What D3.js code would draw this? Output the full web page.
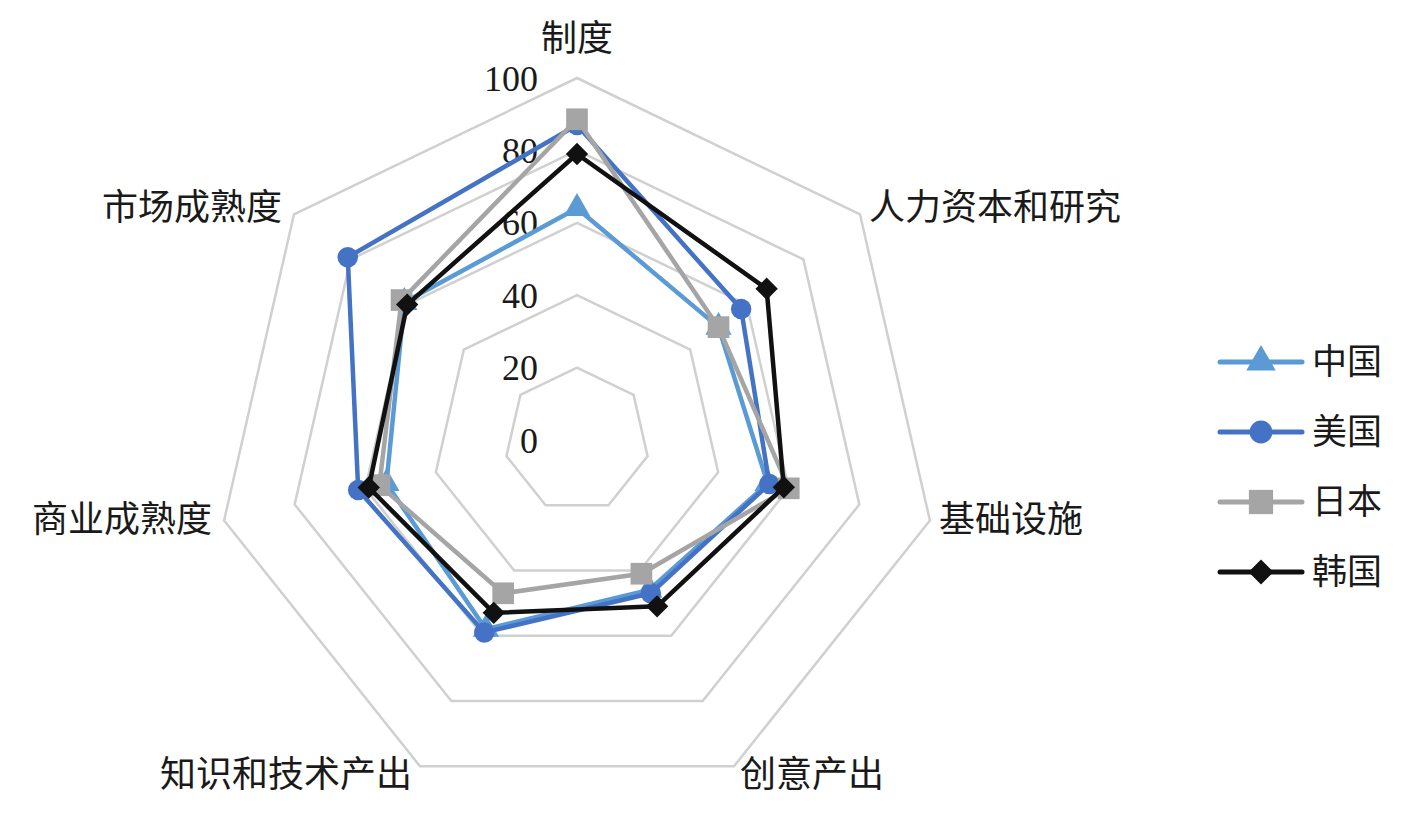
<!DOCTYPE html>
<html>
<head>
<meta charset="utf-8">
<script src="https://cdn.jsdelivr.net/npm/d3@7"></script>
<style>
  body { margin: 0; background: #fff; }
  svg text { font-family: "Liberation Serif", "Noto Sans CJK SC", serif; fill: #1a1a1a; }
  .cjk { font-family: "Noto Sans CJK SC", sans-serif; }
</style>
</head>
<body>
<svg id="chart" width="1412" height="816"></svg>
<script>
// axes of the radar, clockwise from top
const axes = ["制度", "人力资本和研究", "基础设施", "创意产出", "知识和技术产出", "商业成熟度", "市场成熟度"];
const ticks = [0, 20, 40, 60, 80, 100];

const countries = ["中国", "美国", "日本", "韩国"];
const china = [64, 50, 54, 46, 58, 54, 61];
const usa   = [87, 58, 54.5, 47, 59, 62, 81];
const japan = [88.6, 50, 60, 41, 47, 56, 62];
const korea = [79, 67, 58.6, 51, 53, 59, 60];

const colors = ["#5B9BD5", "#4472C4", "#A5A5A5", "#111111"];
const symbols = [d3.symbolTriangle, d3.symbolCircle, d3.symbolSquare, d3.symbolSquare];
const symSizes = [300, 330, 470, 250];
const symRotate = [0, 0, 0, 45];

const svg = d3.select("#chart");
const cx = 577, cy = 440;
const r = d3.scaleLinear().domain([0, 100]).range([0, 362]);
const angle = i => i * 2 * Math.PI / axes.length;
const pt = (i, v) => [cx + r(v) * Math.sin(angle(i)), cy - r(v) * Math.cos(angle(i))];

// grid rings (value 0 is the centre, so skip it)
const ring = d3.line().curve(d3.curveLinearClosed);
svg.append("g").selectAll("path")
  .data(ticks.filter(t => t > 0))
  .join("path")
  .attr("d", t => ring(axes.map((a, i) => pt(i, t))))
  .attr("fill", "none")
  .attr("stroke", "#d0d0d0")
  .attr("stroke-width", 2.5);

// tick labels along the top spoke
svg.append("g").selectAll("text")
  .data(ticks)
  .join("text")
  .attr("x", cx - 39)
  .attr("y", t => cy - r(t))
  .attr("dy", "0.35em")
  .attr("text-anchor", "end")
  .attr("font-size", 36)
  .text(t => t);

// axis labels
svg.append("g").selectAll("text")
  .data(axes)
  .join("text")
  .attr("class", "cjk")
  .attr("font-size", 36)
  .attr("dy", "0.35em")
  .each(function(d, i) {
    const [x, y] = pt(i, 100);
    const s = Math.sin(angle(i)), c = Math.cos(angle(i));
    const t = d3.select(this);
    if (i === 0) {
      t.attr("x", x).attr("y", y - 40).attr("text-anchor", "middle");
    } else if (c < -0.5) {
      // bottom pair
      t.attr("x", x + (s > 0 ? 6 : -8)).attr("y", y + 8)
       .attr("text-anchor", s > 0 ? "start" : "end");
    } else {
      t.attr("x", x + (s > 0 ? 9 : -12)).attr("y", y - (c > 0.5 ? 7 : 1))
       .attr("text-anchor", s > 0 ? "start" : "end");
    }
  })
  .text(d => d);

// series
const seriesData = [china, usa, japan, korea];
seriesData.forEach((vals, k) => {
  const g = svg.append("g");
  g.append("path")
    .attr("d", ring(vals.map((v, i) => pt(i, v))))
    .attr("fill", "none")
    .attr("stroke", colors[k])
    .attr("stroke-width", 4.5)
    .attr("stroke-linejoin", "round");
  g.selectAll("path.m")
    .data(vals)
    .join("path")
    .attr("class", "m")
    .attr("d", d3.symbol().type(symbols[k]).size(symSizes[k]))
    .attr("transform", (v, i) => {
      const [x, y] = pt(i, v);
      return `translate(${x},${y}) rotate(${symRotate[k]})`;
    })
    .attr("fill", colors[k]);
});

// legend
const legend = svg.append("g").selectAll("g")
  .data(countries)
  .join("g")
  .attr("transform", (d, k) => `translate(1220,${362 + k * 70})`);
legend.append("line")
  .attr("x1", 0).attr("x2", 82)
  .attr("stroke", (d, k) => colors[k])
  .attr("stroke-width", 5)
  .attr("stroke-linecap", "round");
legend.append("path")
  .attr("d", (d, k) => d3.symbol().type(symbols[k]).size(symSizes[k] * 1.25)())
  .attr("transform", (d, k) => `translate(41,0) rotate(${symRotate[k]})`)
  .attr("fill", (d, k) => colors[k]);
legend.append("text")
  .attr("class", "cjk")
  .attr("x", 92)
  .attr("dy", "0.35em")
  .attr("font-size", 35)
  .text(d => d);
</script>
</body>
</html>
